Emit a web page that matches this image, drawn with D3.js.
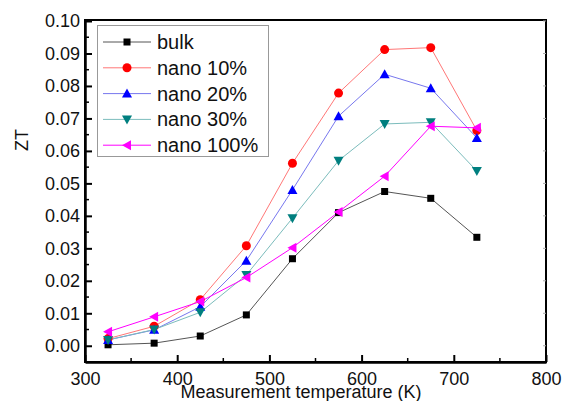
<!DOCTYPE html>
<html>
<head>
  <meta charset="utf-8"/>
  <script src="https://cdn.jsdelivr.net/npm/d3@7/dist/d3.min.js"></script>
<style>
body { margin: 0; background: #fff; }
svg { font-family: "Liberation Sans", Arial, sans-serif; }
.axis text { font-size: 18px; fill: #111; }
.axis path, .axis line { stroke: #000; }
</style>
</head>
<body>
  <svg id="chart" width="570" height="401"></svg>
  <script>
    // data
    var temps = [325, 375, 425, 475, 525, 575, 625, 675, 725];
    var bulk    = [0.0003, 0.0008, 0.0030, 0.0095, 0.0268, 0.0410, 0.0475, 0.0454, 0.0334];
    var nano10  = [0.0022, 0.0060, 0.0142, 0.0308, 0.0562, 0.0778, 0.0912, 0.0918, 0.0663];
    var nano20  = [0.0018, 0.0049, 0.0120, 0.0262, 0.0480, 0.0707, 0.0836, 0.0793, 0.0640];
    var nano30  = [0.0018, 0.0050, 0.0103, 0.0218, 0.0393, 0.0570, 0.0683, 0.0688, 0.0538];
    var nano100 = [0.0043, 0.0089, 0.0136, 0.0210, 0.0302, 0.0412, 0.0522, 0.0676, 0.0671];
    var seriesNames = ["bulk", "nano 10%", "nano 20%", "nano 30%", "nano 100%"];
    var xTicks = [300, 400, 500, 600, 700, 800];
    var yTicks = [0, 0.01, 0.02, 0.03, 0.04, 0.05, 0.06, 0.07, 0.08, 0.09, 0.10];

    var series = [
      { name: seriesNames[0], values: bulk,    color: "#000", line: "#555", shape: "square" },
      { name: seriesNames[1], values: nano10,  color: "#f00", line: "#f77", shape: "circle" },
      { name: seriesNames[2], values: nano20,  color: "#00f", line: "#77e", shape: "up" },
      { name: seriesNames[3], values: nano30,  color: "#007f7f", line: "#7bbcbc", shape: "down" },
      { name: seriesNames[4], values: nano100, color: "#f0f", line: "#f0f", shape: "left" }
    ];

    var pLeft = 85, pRight = 546, pTop = 20, pBottom = 362;
    var svg = d3.select("#chart");

    var x = d3.scaleLinear().domain([300, 800]).range([pLeft, pRight]);
    var y = d3.scaleLinear().domain([-0.005, 0.10]).range([pBottom, pTop + 1]);

    // frame
    svg.append("rect")
        .attr("x", pLeft).attr("y", pTop)
        .attr("width", pRight - pLeft).attr("height", pBottom - pTop)
        .attr("fill", "none").attr("stroke", "#000").attr("stroke-width", 2);

    // minor ticks
    var xMinor = d3.range(350, 800, 100);
    var yMinor = d3.range(0.005, 0.1, 0.01);
    svg.append("g").selectAll("line").data(xMinor).enter().append("line")
        .attr("x1", x).attr("x2", x)
        .attr("y1", pBottom).attr("y2", pBottom - 4)
        .attr("stroke", "#000").attr("stroke-width", 1.5);
    svg.append("g").selectAll("line").data(yMinor).enter().append("line")
        .attr("x1", pLeft).attr("x2", pLeft + 4)
        .attr("y1", y).attr("y2", y)
        .attr("stroke", "#000").attr("stroke-width", 1.5);
    // right side faint ticks
    svg.append("g").selectAll("line").data(yTicks).enter().append("line")
        .attr("x1", pRight).attr("x2", pRight - 3)
        .attr("y1", y).attr("y2", y)
        .attr("stroke", "#aaa").attr("stroke-width", 1);

    var xAxis = svg.append("g")
        .attr("class", "axis")
        .attr("transform", "translate(0," + pBottom + ")")
        .call(d3.axisBottom(x).tickValues(xTicks).tickSizeInner(-7).tickSizeOuter(0).tickPadding(10));
    xAxis.select(".domain").attr("stroke-width", 2.5);
    xAxis.selectAll(".tick line").attr("stroke-width", 2);

    var yAxis = svg.append("g")
        .attr("class", "axis")
        .attr("transform", "translate(" + pLeft + ",0)")
        .call(d3.axisLeft(y).tickValues(yTicks).tickFormat(d3.format(".2f")).tickSizeInner(-7).tickSizeOuter(0).tickPadding(5));
    yAxis.select(".domain").attr("stroke-width", 2.5);
    yAxis.selectAll(".tick line").attr("stroke-width", 2);

    // axis titles
    svg.append("text")
        .attr("x", 301).attr("y", 398)
        .attr("text-anchor", "middle")
        .attr("font-size", 18).attr("fill", "#111")
        .text("Measurement temperature (K)");
    svg.append("text")
        .attr("transform", "translate(28,140) rotate(-90)")
        .attr("text-anchor", "middle")
        .attr("font-size", 18).attr("fill", "#111")
        .text("ZT");

    function marker(sel, shape, color) {
      if (shape === "square") {
        sel.append("rect").attr("x", -3.5).attr("y", -3.5).attr("width", 7).attr("height", 7).attr("fill", color);
      } else if (shape === "circle") {
        sel.append("circle").attr("r", 4.5).attr("fill", color);
      } else {
        var pts = { up: "0,-5 5,4 -5,4", down: "0,5 5,-4 -5,-4", left: "-5,0 4,-5 4,5" }[shape];
        sel.append("polygon").attr("points", pts).attr("fill", color);
      }
    }

    var line = d3.line()
        .x(function(d, i) { return x(temps[i]); })
        .y(function(d) { return y(d); });

    series.forEach(function(s) {
      svg.append("path")
          .attr("d", line(s.values))
          .attr("fill", "none")
          .attr("stroke", s.line)
          .attr("stroke-width", 1);
    });
    series.forEach(function(s) {
      svg.append("g").selectAll("g").data(s.values).enter().append("g")
          .attr("transform", function(d, i) { return "translate(" + x(temps[i]) + "," + y(d) + ")"; })
          .each(function() { marker(d3.select(this), s.shape, s.color); });
    });

    // legend
    var lg = svg.append("g");
    lg.append("rect")
        .attr("x", 97.5).attr("y", 25.5).attr("width", 171).attr("height", 131)
        .attr("fill", "#fff").attr("stroke", "#999").attr("stroke-width", 1);
    series.forEach(function(s, i) {
      var ly = 42 + i * 25.8;
      var row = lg.append("g").attr("transform", "translate(0," + ly + ")");
      row.append("line").attr("x1", 103).attr("x2", 151).attr("y1", 0).attr("y2", 0)
          .attr("stroke", s.line).attr("stroke-width", 1);
      marker(row.append("g").attr("transform", "translate(127,0)"), s.shape, s.color);
      row.append("text").attr("x", 157).attr("y", 7)
          .attr("font-size", 20).attr("fill", "#111")
          .text(s.name);
    });
  </script>
</body>
</html>
